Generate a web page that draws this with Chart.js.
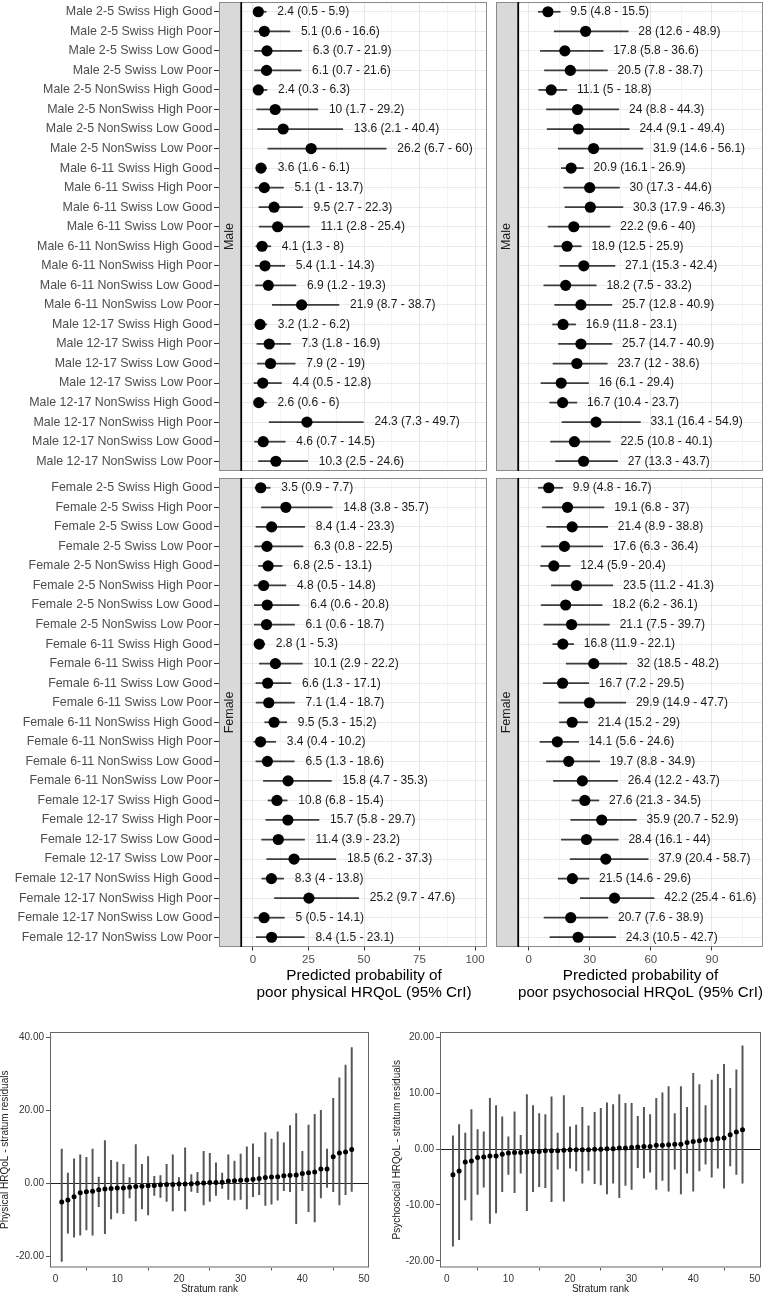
<!DOCTYPE html>
<html>
<head>
<meta charset="utf-8">
<script src="https://cdn.jsdelivr.net/npm/chart.js"></script>
<style>
  body { margin: 0; background: #fff; }
  #page { position: relative; width: 767px; height: 1295px; overflow: hidden; background: #fff; }
  canvas { position: absolute; }
</style>
</head>
<body>
<div id="page">
  <canvas id="physMale" width="490" height="474" style="left:0px;top:0px"></canvas>
  <canvas id="psyMale" width="277" height="474" style="left:490px;top:0px"></canvas>
  <canvas id="physFemale" width="490" height="527" style="left:0px;top:476px"></canvas>
  <canvas id="psyFemale" width="277" height="527" style="left:490px;top:476px"></canvas>
  <canvas id="physResidChart" width="380" height="270" style="left:0px;top:1025px"></canvas>
  <canvas id="psyResidChart" width="382" height="270" style="left:385px;top:1025px"></canvas>
</div>
<script>
const maleLabels = [
  'Male 2-5 Swiss High Good', 'Male 2-5 Swiss High Poor', 'Male 2-5 Swiss Low Good', 'Male 2-5 Swiss Low Poor',
  'Male 2-5 NonSwiss High Good', 'Male 2-5 NonSwiss High Poor', 'Male 2-5 NonSwiss Low Good', 'Male 2-5 NonSwiss Low Poor',
  'Male 6-11 Swiss High Good', 'Male 6-11 Swiss High Poor', 'Male 6-11 Swiss Low Good', 'Male 6-11 Swiss Low Poor',
  'Male 6-11 NonSwiss High Good', 'Male 6-11 NonSwiss High Poor', 'Male 6-11 NonSwiss Low Good', 'Male 6-11 NonSwiss Low Poor',
  'Male 12-17 Swiss High Good', 'Male 12-17 Swiss High Poor', 'Male 12-17 Swiss Low Good', 'Male 12-17 Swiss Low Poor',
  'Male 12-17 NonSwiss High Good', 'Male 12-17 NonSwiss High Poor', 'Male 12-17 NonSwiss Low Good', 'Male 12-17 NonSwiss Low Poor'
];
const femaleLabels = [
  'Female 2-5 Swiss High Good', 'Female 2-5 Swiss High Poor', 'Female 2-5 Swiss Low Good', 'Female 2-5 Swiss Low Poor',
  'Female 2-5 NonSwiss High Good', 'Female 2-5 NonSwiss High Poor', 'Female 2-5 NonSwiss Low Good', 'Female 2-5 NonSwiss Low Poor',
  'Female 6-11 Swiss High Good', 'Female 6-11 Swiss High Poor', 'Female 6-11 Swiss Low Good', 'Female 6-11 Swiss Low Poor',
  'Female 6-11 NonSwiss High Good', 'Female 6-11 NonSwiss High Poor', 'Female 6-11 NonSwiss Low Good', 'Female 6-11 NonSwiss Low Poor',
  'Female 12-17 Swiss High Good', 'Female 12-17 Swiss High Poor', 'Female 12-17 Swiss Low Good', 'Female 12-17 Swiss Low Poor',
  'Female 12-17 NonSwiss High Good', 'Female 12-17 NonSwiss High Poor', 'Female 12-17 NonSwiss Low Good', 'Female 12-17 NonSwiss Low Poor'
];

// predicted probability of poor physical HRQoL (%), 95% CrI
const physMaleMean = [2.4, 5.1, 6.3, 6.1, 2.4, 10, 13.6, 26.2, 3.6, 5.1, 9.5, 11.1, 4.1, 5.4, 6.9, 21.9, 3.2, 7.3, 7.9, 4.4, 2.6, 24.3, 4.6, 10.3];
const physMaleLow = [0.5, 0.6, 0.7, 0.7, 0.3, 1.7, 2.1, 6.7, 1.6, 1, 2.7, 2.8, 1.3, 1.1, 1.2, 8.7, 1.2, 1.8, 2, 0.5, 0.6, 7.3, 0.7, 2.5];
const physMaleHigh = [5.9, 16.6, 21.9, 21.6, 6.3, 29.2, 40.4, 60, 6.1, 13.7, 22.3, 25.4, 8, 14.3, 19.3, 38.7, 6.2, 16.9, 19, 12.8, 6, 49.7, 14.5, 24.6];
const physFemaleMean = [3.5, 14.8, 8.4, 6.3, 6.8, 4.8, 6.4, 6.1, 2.8, 10.1, 6.6, 7.1, 9.5, 3.4, 6.5, 15.8, 10.8, 15.7, 11.4, 18.5, 8.3, 25.2, 5, 8.4];
const physFemaleLow = [0.9, 3.8, 1.4, 0.8, 2.5, 0.5, 0.6, 0.6, 1, 2.9, 1.3, 1.4, 5.3, 0.4, 1.3, 4.7, 6.8, 5.8, 3.9, 6.2, 4, 9.7, 0.5, 1.5];
const physFemaleHigh = [7.7, 35.7, 23.3, 22.5, 13.1, 14.8, 20.8, 18.7, 5.3, 22.2, 17.1, 18.7, 15.2, 10.2, 18.6, 35.3, 15.4, 29.7, 23.2, 37.3, 13.8, 47.6, 14.1, 23.1];

// predicted probability of poor psychosocial HRQoL (%), 95% CrI
const psyMaleMean = [9.5, 28, 17.8, 20.5, 11.1, 24, 24.4, 31.9, 20.9, 30, 30.3, 22.2, 18.9, 27.1, 18.2, 25.7, 16.9, 25.7, 23.7, 16, 16.7, 33.1, 22.5, 27];
const psyMaleLow = [4.8, 12.6, 5.8, 7.8, 5, 8.8, 9.1, 14.6, 16.1, 17.3, 17.9, 9.6, 12.5, 15.3, 7.5, 12.8, 11.8, 14.7, 12, 6.1, 10.4, 16.4, 10.8, 13.3];
const psyMaleHigh = [15.5, 48.9, 36.6, 38.7, 18.8, 44.3, 49.4, 56.1, 26.9, 44.6, 46.3, 40, 25.9, 42.4, 33.2, 40.9, 23.1, 40.9, 38.6, 29.4, 23.7, 54.9, 40.1, 43.7];
const psyFemaleMean = [9.9, 19.1, 21.4, 17.6, 12.4, 23.5, 18.2, 21.1, 16.8, 32, 16.7, 29.9, 21.4, 14.1, 19.7, 26.4, 27.6, 35.9, 28.4, 37.9, 21.5, 42.2, 20.7, 24.3];
const psyFemaleLow = [4.8, 6.8, 8.9, 6.3, 5.9, 11.2, 6.2, 7.5, 11.9, 18.5, 7.2, 14.9, 15.2, 5.6, 8.8, 12.2, 21.3, 20.7, 16.1, 20.4, 14.6, 25.4, 7.6, 10.5];
const psyFemaleHigh = [16.7, 37, 38.8, 36.4, 20.4, 41.3, 36.1, 39.7, 22.1, 48.2, 29.5, 47.7, 29, 24.6, 34.9, 43.7, 34.5, 52.9, 44, 58.7, 29.6, 61.6, 38.9, 42.7];

const physTicks = [0, 25, 50, 75, 100];
const psyTicks = [0, 30, 60, 90];

// stratum residuals, ordered by rank
const stratumRank = [1, 2, 3, 4, 5, 6, 7, 8, 9, 10, 11, 12, 13, 14, 15, 16, 17, 18, 19, 20, 21, 22, 23, 24,
  25, 26, 27, 28, 29, 30, 31, 32, 33, 34, 35, 36, 37, 38, 39, 40, 41, 42, 43, 44, 45, 46, 47, 48];
const physResid = [-5.1, -4.6, -3.7, -2.6, -2.3, -2.2, -1.8, -1.6, -1.4, -1.3, -1.3, -1.1, -0.9, -0.8, -0.7, -0.6,
  -0.4, -0.3, -0.3, -0.2, -0.2, -0.1, 0, 0.1, 0.2, 0.2, 0.3, 0.6, 0.7, 0.8, 0.9, 1.1, 1.3, 1.6, 1.7, 1.8,
  2.1, 2.2, 2.3, 2.7, 2.9, 3.1, 3.9, 3.9, 7.3, 8.3, 8.6, 9.3];
const physResidLow = [-21.4, -13.7, -14.8, -14.2, -12.8, -14.2, -6.4, -13.8, -9.8, -8.1, -8.3, -4.0, -10.3, -7.0, -8.7, -3.3,
  -3.9, -5.0, -7.6, -2.0, -7.6, -2.2, -2.6, -5.9, -5.0, -3.3, -1.4, -4.4, -4.6, -4.4, -7.0, -3.7, -3.1, -6.1, -5.7, -4.6,
  -2.0, -2.3, -11.1, -2.0, -7.8, -10.6, -4.0, -1.1, -2.3, -5.9, -3.1, -2.2];
const physResidHigh = [9.4, 2.8, 6.7, 7.8, 7.1, 9.4, 1.7, 11.7, 6.3, 5.8, 5.2, 1.6, 10.6, 5.2, 7.3, 1.9,
  2.1, 5.2, 7.8, 1.6, 9.7, 2.4, 3.0, 8.8, 8.2, 5.6, 2.8, 7.8, 6.1, 8.0, 10.0, 10.8, 7.1, 13.9, 12.1, 14.1,
  11.1, 15.8, 19.1, 8.8, 16.0, 18.9, 20.0, 9.4, 23.3, 28.9, 32.4, 37.2];
const psyResid = [-4.6, -3.9, -2.3, -2.1, -1.5, -1.4, -1.2, -1.2, -0.9, -0.7, -0.6, -0.6, -0.5, -0.4, -0.4, -0.3,
  -0.3, -0.3, -0.2, -0.1, -0.1, -0.1, -0.1, 0, 0, 0.1, 0.1, 0.2, 0.2, 0.3, 0.4, 0.5, 0.5, 0.7, 0.7, 0.8,
  0.9, 0.9, 1.2, 1.4, 1.5, 1.7, 1.7, 1.9, 2.0, 2.6, 3.1, 3.5];
const psyResidLow = [-17.4, -16.2, -9.1, -12.7, -8.1, -6.8, -13.3, -11.4, -7.6, -4.5, -7.8, -4.3, -11.0, -7.6, -6.7, -6.9,
  -9.4, -3.6, -9.3, -3.4, -3.9, -6.1, -3.8, -6.2, -6.4, -8.0, -6.1, -8.7, -6.5, -7.2, -3.3, -5.2, -4.1, -7.2, -5.6, -7.5,
  -3.6, -8.0, -4.3, -7.5, -3.9, -2.7, -5.0, -3.4, -7.0, -3.0, -4.5, -6.1];
const psyResidHigh = [2.4, 4.4, 2.9, 7.1, 3.5, 3.1, 9.1, 7.8, 5.8, 2.2, 6.7, 2.5, 9.8, 7.8, 6.4, 6.2,
  9.4, 2.9, 9.6, 4.0, 4.3, 7.5, 4.2, 6.6, 7.3, 8.3, 8.0, 9.8, 8.2, 8.2, 5.9, 7.5, 6.2, 9.1, 10.1, 11.2,
  6.4, 11.2, 7.5, 13.6, 11.6, 7.8, 12.4, 13.4, 15.2, 10.9, 14.2, 18.5];

const FONT = "'Liberation Sans', Arial, Helvetica, sans-serif";
Chart.defaults.font.family = FONT;
Chart.defaults.animation = false;
Chart.defaults.responsive = false;
Chart.defaults.devicePixelRatio = 1;
Chart.defaults.layout.autoPadding = false;
Chart.defaults.plugins.legend.display = false;
Chart.defaults.plugins.tooltip.enabled = false;

// fixed axis box, no extra room for overhanging labels
function fixBox(s, w, h) {
  if (w !== null) s.width = w;
  if (h !== null) s.height = h;
  s.paddingTop = 0;
  s.paddingBottom = 0;
  s.paddingLeft = 0;
  s.paddingRight = 0;
}

// one facet of the forest plot (strip + panel + value labels)
function forestPanel(id, labels, mean, lo, hi, cfg) {
  const majors = cfg.ticks;
  const isMajor = c => c.tick && majors.includes(c.tick.value);

  const decor = {
    id: 'decor',
    afterDatasetsDraw(chart) {
      const { ctx, scales: { x, y } } = chart;
      ctx.save();
      ctx.font = '12px ' + FONT;
      ctx.fillStyle = '#1a1a1a';
      ctx.textAlign = 'left';
      ctx.textBaseline = 'middle';
      mean.forEach((m, i) => {
        ctx.fillText(m + ' (' + lo[i] + ' - ' + hi[i] + ')', x.getPixelForValue(hi[i] + 5), y.getPixelForValue(i));
      });
      ctx.restore();
    },
    afterDraw(chart) {
      const { ctx, chartArea: a } = chart;
      ctx.save();
      ctx.strokeStyle = '#8a8a8a';
      ctx.lineWidth = 1;
      ctx.strokeRect(a.left + 0.5, a.top + 0.5, a.width - 1, a.height - 1);
      // facet strip on the left
      const sx = cfg.stripX, sw = a.left - sx;
      ctx.fillStyle = '#d9d9d9';
      ctx.fillRect(sx, a.top, sw, a.height);
      ctx.strokeRect(sx + 0.5, a.top + 0.5, sw - 1, a.height - 1);
      ctx.fillStyle = '#000';
      ctx.fillRect(a.left - 0.5, a.top, 1.6, a.height);
      ctx.translate(sx + sw / 2, (a.top + a.bottom) / 2);
      ctx.rotate(-Math.PI / 2);
      ctx.fillStyle = '#1a1a1a';
      ctx.font = '12.5px ' + FONT;
      ctx.textAlign = 'center';
      ctx.textBaseline = 'middle';
      ctx.fillText(cfg.strip, 0, 0);
      ctx.restore();
    }
  };

  return new Chart(document.getElementById(id), {
    type: 'bar',
    data: {
      labels: labels,
      datasets: [
        {
          type: 'line', indexAxis: 'y', data: mean, showLine: false, order: 0,
          pointRadius: 5.6, pointBackgroundColor: '#000', pointBorderColor: '#000', pointBorderWidth: 0
        },
        {
          type: 'bar', indexAxis: 'y', data: labels.map((l, i) => [lo[i], hi[i]]), order: 1,
          backgroundColor: '#3c3c3c', barThickness: 1.1, borderWidth: 0
        }
      ]
    },
    options: {
      indexAxis: 'y',
      layout: { padding: cfg.padding, autoPadding: false },
      scales: {
        y: {
          type: 'category',
          offset: true,
          grid: { offset: false, color: '#ebebeb', lineWidth: 1, drawTicks: cfg.showY, tickLength: 27, tickColor: '#333' },
          border: { display: false },
          ticks: { display: cfg.showY, autoSkip: false, color: '#4d4d4d', font: { size: 12.4 }, padding: 1.5 },
          afterFit: s => fixBox(s, cfg.yWidth, null)
        },
        x: {
          type: 'linear',
          min: cfg.min,
          max: cfg.max,
          grid: {
            color: c => isMajor(c) ? '#e6e6e6' : '#f1f1f1',
            lineWidth: c => isMajor(c) ? 1 : 0.8,
            drawTicks: cfg.showX,
            tickLength: 3.5,
            tickColor: c => isMajor(c) ? '#333' : 'rgba(0,0,0,0)'
          },
          border: { display: false },
          ticks: {
            display: cfg.showX, stepSize: cfg.minorStep, includeBounds: false, autoSkip: false, maxRotation: 0,
            color: '#4d4d4d', font: { size: 11.5 }, padding: 2.5,
            callback: v => majors.includes(v) ? String(v) : ''
          },
          title: {
            display: cfg.showX, text: cfg.title, color: '#000',
            font: { size: 15.3, lineHeight: 1.1 }, padding: { top: 0, bottom: 1.5 }
          },
          afterFit: s => fixBox(s, null, cfg.xHeight)
        }
      }
    },
    plugins: [decor]
  });
}

// caterpillar plot of stratum residuals
function residualPanel(id, rank, est, lo, hi, cfg) {
  const frame = {
    id: 'frame',
    afterDraw(chart) {
      const { ctx, chartArea: a } = chart;
      ctx.save();
      ctx.strokeStyle = '#666';
      ctx.lineWidth = 1;
      ctx.strokeRect(a.left + 0.5, a.top + 0.5, a.width - 1, a.height - 1);
      ctx.restore();
    }
  };

  return new Chart(document.getElementById(id), {
    type: 'bar',
    data: {
      datasets: [
        {
          type: 'line', data: rank.map((r, i) => ({ x: r, y: est[i] })), showLine: false, order: 0,
          pointRadius: 2.5, pointBackgroundColor: '#000', pointBorderWidth: 0
        },
        {
          type: 'bar', data: rank.map((r, i) => ({ x: r, y: [lo[i], hi[i]] })), order: 1,
          backgroundColor: '#555', barThickness: 1.3, borderWidth: 0
        }
      ]
    },
    options: {
      layout: { padding: cfg.padding, autoPadding: false },
      scales: {
        x: {
          type: 'linear', offset: false, min: cfg.xmin, max: cfg.xmax,
          ticks: { stepSize: 10, includeBounds: false, maxRotation: 0, color: '#333', font: { size: 10 }, padding: 3 },
          grid: { drawOnChartArea: false, tickLength: 3, tickColor: '#555' },
          border: { display: false },
          title: { display: true, text: 'Stratum rank', color: '#222', font: { size: 10, lineHeight: 1.2 }, padding: 0 },
          afterFit: s => fixBox(s, null, 27.5)
        },
        y: {
          type: 'linear', min: cfg.ymin, max: cfg.ymax,
          ticks: { stepSize: cfg.ystep, includeBounds: false, color: '#333', font: { size: 10 }, padding: 2, callback: v => v.toFixed(2) },
          grid: { color: c => (c.tick && c.tick.value === 0) ? '#222' : 'rgba(0,0,0,0)', tickLength: 4, tickColor: '#555' },
          border: { display: false },
          title: { display: true, text: cfg.ytitle, color: '#222', font: { size: 10, lineHeight: 1.0 }, padding: { top: cfg.titlePad, bottom: 0 } },
          afterFit: s => fixBox(s, cfg.yWidth, null)
        }
      }
    },
    plugins: [frame]
  });
}

const physTitle = ['Predicted probability of', 'poor physical HRQoL (95% CrI)'];
const psyTitle = ['Predicted probability of', 'poor psychosocial HRQoL (95% CrI)'];

const leftBase = { showY: true, yWidth: 241, stripX: 219, min: -5.4, max: 105.4, minorStep: 12.5, ticks: physTicks, title: physTitle };
const rightBase = { showY: false, yWidth: 28, stripX: 6, min: -5.2, max: 115.1, minorStep: 15, ticks: psyTicks, title: psyTitle };

forestPanel('physMale', maleLabels, physMaleMean, physMaleLow, physMaleHigh,
  Object.assign({}, leftBase, { strip: 'Male', showX: false, xHeight: 0, padding: { top: 2, right: 3, bottom: 3, left: 0 } }));
forestPanel('psyMale', maleLabels, psyMaleMean, psyMaleLow, psyMaleHigh,
  Object.assign({}, rightBase, { strip: 'Male', showX: false, xHeight: 0, padding: { top: 2, right: 4, bottom: 3, left: 0 } }));
forestPanel('physFemale', femaleLabels, physFemaleMean, physFemaleLow, physFemaleHigh,
  Object.assign({}, leftBase, { strip: 'Female', showX: true, xHeight: 56, padding: { top: 2, right: 3, bottom: 0, left: 0 } }));
forestPanel('psyFemale', femaleLabels, psyFemaleMean, psyFemaleLow, psyFemaleHigh,
  Object.assign({}, rightBase, { strip: 'Female', showX: true, xHeight: 56, padding: { top: 2, right: 4, bottom: 0, left: 0 } }));

residualPanel('physResidChart', stratumRank, physResid, physResidLow, physResidHigh, {
  xmin: -0.9, xmax: 50.8, ymin: -23.1, ymax: 41.5, ystep: 20, yWidth: 50, titlePad: 0,
  ytitle: 'Physical HRQoL - stratum residuals', padding: { top: 7, right: 11, bottom: 0, left: 0 }
});
residualPanel('psyResidChart', stratumRank, psyResid, psyResidLow, psyResidHigh, {
  xmin: -1.1, xmax: 51, ymin: -21.2, ymax: 21.0, ystep: 10, yWidth: 55, titlePad: 7,
  ytitle: 'Psychosocial HRQoL - stratum residuals', padding: { top: 7, right: 6, bottom: 0, left: 0 }
});
</script>
</body>
</html>
